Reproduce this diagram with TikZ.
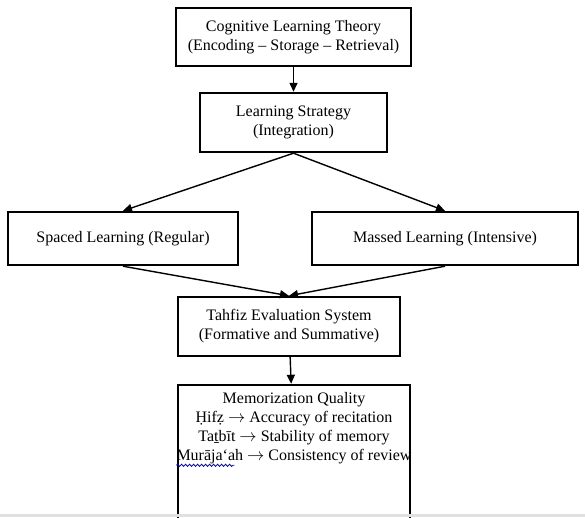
\documentclass[tikz,border=0pt]{standalone}
\usepackage{fontspec}
\setmainfont{Liberation Serif}
\usetikzlibrary{arrows.meta,decorations.pathmorphing,calc}
\begin{document}
\begin{tikzpicture}[x=1pt,y=-1pt,
  box/.style={draw=black,line width=2.4pt,rectangle,inner sep=0pt,align=center,
    font=\fontsize{16}{19}\selectfont},
  conn/.style={line width=1.4pt,-{Triangle[length=9pt,width=8pt]}},
  plain/.style={inner sep=0pt,font=\fontsize{16}{19}\selectfont,anchor=base},
  spell/.style={draw=blue!80!black,line width=0.8pt,decorate,
    decoration={snake,segment length=4pt,amplitude=1.1pt}},
]
\useasboundingbox (0,0) rectangle (585,517);
\clip (0,0) rectangle (585,517);
\node[box,minimum width=235pt,minimum height=58pt] (theory) at (293.5,37)
  {Cognitive Learning Theory\\(Encoding – Storage – Retrieval)};
\node[box,minimum width=187pt,minimum height=59pt] (strategy) at (293.5,122.5)
  {Learning Strategy\\(Integration)};
\node[box,minimum width=230pt,minimum height=53pt] (spaced) at (123,238.5)
  {Spaced Learning (Regular)};
\node[box,minimum width=266pt,minimum height=53pt] (massed) at (445,238.5)
  {Massed Learning (Intensive)};
\node[box,minimum width=222pt,minimum height=59pt] (tahfiz) at (289,326.5)
  {Tahfiz Evaluation System\\(Formative and Summative)};
\node[box,minimum width=232pt,minimum height=150pt] (quality) at (294,460) {};
\node[plain] (l1) at ($(quality.north)+(0,20)$) {Memorization Quality};
\node[plain] (l2) at ($(quality.north)+(0,39)$) {Ḥifẓ $\rightarrow$ Accuracy of recitation};
\node[plain] (l3) at ($(quality.north)+(0,58)$) {Taṯbīt $\rightarrow$ Stability of memory};
\node[plain] (l4) at ($(quality.north)+(0,77)$) {Murāja‘ah $\rightarrow$ Consistency of review};
\coordinate (wavestart) at ($(l4.base west)+(0,4.5)$);
\coordinate (waveend) at ($(l4.base west)+(58,4.5)$);
\draw[spell] (wavestart) -- (waveend);

\draw[conn] (theory) -- (strategy);
\draw[conn] (strategy.south) -- (spaced.north);
\draw[conn] (strategy.south) -- (massed.north);
\draw[conn] (spaced.south) -- (tahfiz.north);
\draw[conn] (massed.south) -- (tahfiz.north);
\draw[conn] (tahfiz) -- (quality);

\fill[black!12] (0,514) rectangle (585,517);
\end{tikzpicture}
\end{document}
